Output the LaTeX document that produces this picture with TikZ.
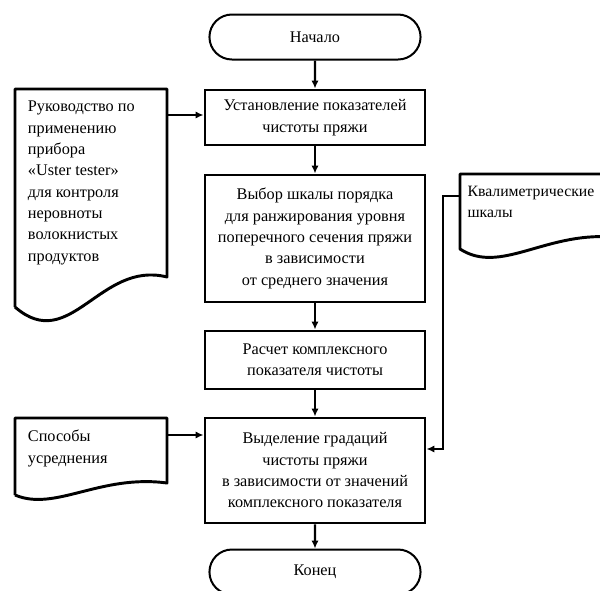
\documentclass[tikz,border=0pt]{standalone}
\usepackage{fontspec}
\setmainfont{Liberation Serif}
\usetikzlibrary{arrows.meta, shapes.misc}

\begin{document}
\begin{tikzpicture}[x=0.75pt,y=-0.75pt,font=\fontsize{12.2}{16}\selectfont,
  >={Latex[length=6pt,width=5.5pt]},
  blok/.style={draw, line width=2.2pt, rectangle, minimum width=165pt, align=center, inner sep=0pt},
  term/.style={draw, line width=1.5pt, rounded rectangle, minimum width=165pt, minimum height=33.75pt},
  doctxt/.style={anchor=north west, align=left, inner xsep=9.5pt, inner ysep=9pt},
  docline/.style={line width=2.2pt, line join=round},
  conn/.style={line width=1.8pt, ->}]
\useasboundingbox (0,0) rectangle (600,590);
\clip (0,0) rectangle (600,590);

\node[term] (nach) at (315,37) {Начало};
\node[blok, minimum height=41.25pt] (ust) at (315,117.5) {Установление показателей\\ чистоты пряжи};
\node[blok, minimum height=95.25pt] (vybor) at (315,238.5) {Выбор шкалы порядка\\ для ранжирования уровня\\ поперечного сечения пряжи\\ в зависимости\\ от среднего значения};
\node[blok, minimum height=43.5pt] (rasch) at (315,360) {Расчет комплексного\\ показателя чистоты};
\node[blok, minimum height=78.75pt] (vyd) at (315,470.5) {Выделение градаций\\ чистоты пряжи\\ в зависимости от значений\\ комплексного показателя};
\node[term] (kon) at (315,572) {Конец};

% documents
\draw[docline] (15,307) -- (15,89) -- (167,89) -- (167,277) .. controls (100,260) and (70,355) .. (15,307);
\node[doctxt] (ruk) at (15,89) {Руководство по\\ применению\\ прибора\\ «Uster tester»\\ для контроля\\ неровноты\\ волокнистых\\ продуктов};
\draw[docline] (15,495) -- (15,418) -- (167,418) -- (167,483) .. controls (100,474) and (55,512) .. (15,495);
\node[doctxt] (sposob) at (15,418) {Способы\\ усреднения};
\draw[docline] (612,237) -- (612,174) -- (460,174) -- (460,249) .. controls (500,275) and (545,232) .. (612,237);
\node[doctxt, inner xsep=5.5pt, font=\fontsize{11.8}{16}\selectfont] (kval) at (460,174) {Квалиметрические\\ шкалы};

\coordinate (r1) at (167,115);
\coordinate (s1) at (167,435);
\coordinate (k1) at (460,196);
\coordinate (k2) at (443,449);

\draw[conn] (nach) -- (ust);
\draw[conn] (ust) -- (vybor);
\draw[conn] (vybor) -- (rasch);
\draw[conn] (rasch) -- (vyd);
\draw[conn] (vyd) -- (kon);
\draw[conn] (r1) -- (r1 -| ust.west);
\draw[conn] (s1) -- (s1 -| vyd.west);
\draw[conn] (k1) -| (k2) -- (k2 -| vyd.east);
\end{tikzpicture}
\end{document}
